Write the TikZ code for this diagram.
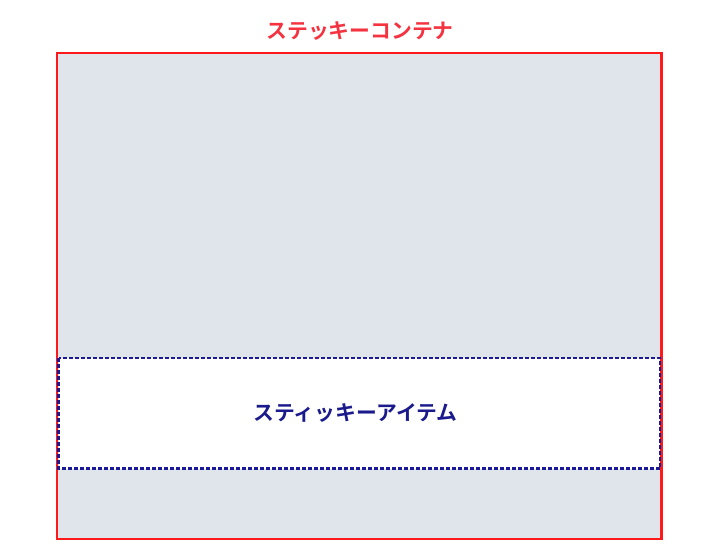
\documentclass[tikz,border=0pt]{standalone}
\usepackage{fontspec}
\newfontfamily\jp{Noto Sans CJK JP}[BoldFont={Noto Sans CJK JP Bold}]
\definecolor{boxfill}{HTML}{E0E5EC}
\definecolor{redline}{HTML}{FF1A1A}
\definecolor{redtext}{HTML}{F53340}
\definecolor{navy}{HTML}{1A1A99}
\definecolor{navytext}{HTML}{1A1A8C}
\tikzset{
  container/.style={draw=redline, line width=2.4pt, fill=boxfill},
  item/.style={draw=navy, line width=2.2pt, fill=white, dash pattern=on 4pt off 2pt},
  titletext/.style={font=\jp\bfseries\fontsize{20.8pt}{24pt}\selectfont, text=redtext, inner sep=0pt},
  itemtext/.style={font=\jp\bfseries\fontsize{20.8pt}{24pt}\selectfont, text=navytext, inner sep=0pt},
}
\begin{document}
\begin{tikzpicture}[x=1pt,y=-1pt]
\useasboundingbox (0,0) rectangle (720,550);
\fill[white] (0,0) rectangle (720,550);
\draw[container] (57,53) rectangle (661.5,539) ;
\coordinate (cbox) at (57,53);
\draw[item] (58.5,358) rectangle (660,468.5);
\coordinate (ibox) at (58.5,358);
\node[titletext] (title) at (360,31) {ステッキーコンテナ};
\node[itemtext] (itemlabel) at (355.5,413.5) {スティッキーアイテム};
\end{tikzpicture}
\end{document}
